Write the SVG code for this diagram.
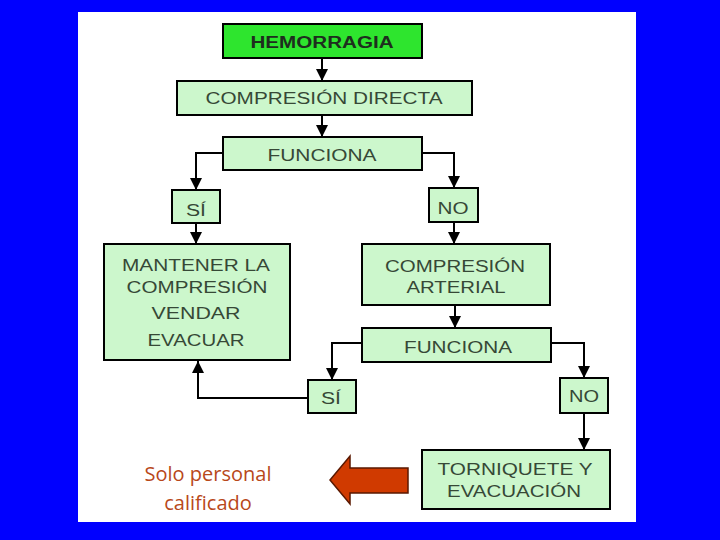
<svg xmlns="http://www.w3.org/2000/svg" width="720" height="540" viewBox="0 0 720 540">
<style>
.box{fill:#ccf7cc;stroke:#000;stroke-width:2}
.t{font-family:"Liberation Sans",Arial,sans-serif;font-size:16px;fill:#364836;text-anchor:middle}
.b{font-weight:bold;fill:#1e2e1e}
.c{fill:none;stroke:#000;stroke-width:2}
.note{font-family:"Open Sans","Liberation Sans",sans-serif;font-size:20px;fill:#b8481a;text-anchor:middle}
</style>
<defs>
<marker id="ah" viewBox="0 0 12 12" refX="12" refY="6" markerWidth="12" markerHeight="12" markerUnits="userSpaceOnUse" orient="auto">
<path d="M0,0 L12,6 L0,12 z" fill="#000"/>
</marker>
</defs>
<rect x="0" y="0" width="720" height="540" fill="#0000ff"/>
<rect x="78" y="12" width="558" height="510" fill="#ffffff"/>
<g id="connectors">
<line class="c" x1="322" y1="58" x2="322" y2="81" marker-end="url(#ah)"/>
<line class="c" x1="322" y1="115" x2="322" y2="137" marker-end="url(#ah)"/>
<path class="c" d="M223,153 H196 V190" marker-end="url(#ah)"/>
<path class="c" d="M422,153 H454 V188" marker-end="url(#ah)"/>
<line class="c" x1="196" y1="223" x2="196" y2="244" marker-end="url(#ah)"/>
<line class="c" x1="454" y1="222" x2="454" y2="244" marker-end="url(#ah)"/>
<line class="c" x1="455" y1="305" x2="455" y2="328" marker-end="url(#ah)"/>
<path class="c" d="M362,343 H332 V380" marker-end="url(#ah)"/>
<path class="c" d="M551,343 H584 V378" marker-end="url(#ah)"/>
<path class="c" d="M308,398 H198 V361" marker-end="url(#ah)"/>
<line class="c" x1="584" y1="413" x2="584" y2="450" marker-end="url(#ah)"/>
</g>
<g id="hemorragia">
<rect x="223" y="24" width="199" height="34" fill="#2ee52e" stroke="#000" stroke-width="2"/>
<text class="t b" x="322" y="48" textLength="143" lengthAdjust="spacingAndGlyphs">HEMORRAGIA</text>
</g>
<g id="compresion-directa">
<rect class="box" x="177" y="81" width="295" height="34"/>
<text class="t" x="324" y="104" textLength="237" lengthAdjust="spacingAndGlyphs">COMPRESIÓN DIRECTA</text>
</g>
<g id="funciona1">
<rect class="box" x="223" y="137" width="199" height="33"/>
<text class="t" x="322" y="161" textLength="109" lengthAdjust="spacingAndGlyphs">FUNCIONA</text>
</g>
<g id="si1">
<rect class="box" x="172" y="190" width="48" height="33"/>
<text class="t" x="196" y="216" textLength="20" lengthAdjust="spacingAndGlyphs">SÍ</text>
</g>
<g id="no1">
<rect class="box" x="429" y="188" width="49" height="34"/>
<text class="t" x="453" y="214" textLength="31" lengthAdjust="spacingAndGlyphs">NO</text>
</g>
<g id="mantener">
<rect class="box" x="104" y="244" width="186" height="116"/>
<text class="t" x="196" y="271" textLength="148" lengthAdjust="spacingAndGlyphs">MANTENER LA</text>
<text class="t" x="197" y="293" textLength="141" lengthAdjust="spacingAndGlyphs">COMPRESIÓN</text>
<text class="t" x="196" y="319" textLength="89" lengthAdjust="spacingAndGlyphs">VENDAR</text>
<text class="t" x="196" y="346" textLength="97" lengthAdjust="spacingAndGlyphs">EVACUAR</text>
</g>
<g id="compresion-arterial">
<rect class="box" x="362" y="244" width="188" height="61"/>
<text class="t" x="455" y="272" textLength="140" lengthAdjust="spacingAndGlyphs">COMPRESIÓN</text>
<text class="t" x="456" y="293" textLength="99" lengthAdjust="spacingAndGlyphs">ARTERIAL</text>
</g>
<g id="funciona2">
<rect class="box" x="362" y="328" width="189" height="34"/>
<text class="t" x="458" y="353" textLength="108" lengthAdjust="spacingAndGlyphs">FUNCIONA</text>
</g>
<g id="si2">
<rect class="box" x="308" y="380" width="48" height="33"/>
<text class="t" x="331" y="404" textLength="20" lengthAdjust="spacingAndGlyphs">SÍ</text>
</g>
<g id="no2">
<rect class="box" x="560" y="378" width="48" height="35"/>
<text class="t" x="584" y="402" textLength="30" lengthAdjust="spacingAndGlyphs">NO</text>
</g>
<g id="torniquete">
<rect class="box" x="422" y="450" width="188" height="59"/>
<text class="t" x="515" y="475" textLength="155" lengthAdjust="spacingAndGlyphs">TORNIQUETE Y</text>
<text class="t" x="514" y="497" textLength="134" lengthAdjust="spacingAndGlyphs">EVACUACIÓN</text>
</g>
<g id="red-arrow">
<path d="M408,468 H350 V456 L330,480 L350,504 V493 H408 Z" fill="#d03a00" stroke="#5a1800" stroke-width="1.5"/>
</g>
<g id="note">
<text class="note" x="208" y="481">Solo personal</text>
<text class="note" x="208" y="510">calificado</text>
</g>
</svg>
